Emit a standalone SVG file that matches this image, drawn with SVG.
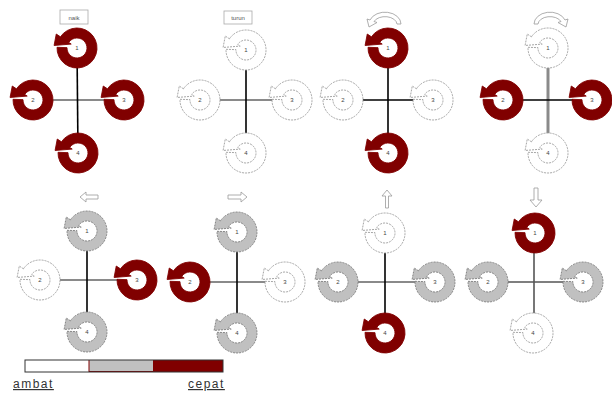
<svg xmlns="http://www.w3.org/2000/svg" xmlns:xlink="http://www.w3.org/1999/xlink" width="612" height="394" viewBox="0 0 612 394">
<style>
.fast{fill:#800000;stroke:#800000;stroke-width:0.8}
.mid{fill:#c0c0c0;stroke:#7a7a7a;stroke-width:0.8;stroke-dasharray:2 1}
.slow{fill:#ffffff;stroke:#9a9a9a;stroke-width:0.8;stroke-dasharray:2 1}
.num{font-family:"Liberation Sans",Arial,sans-serif;font-size:6px;fill:#444;text-anchor:middle}
.armb{stroke:#000;stroke-width:1.6}
.armg{stroke:#8a8a8a;stroke-width:2}
.armd{stroke:#555;stroke-width:1.6}
.hint{fill:#fff;stroke:#9a9a9a;stroke-width:0.8}
.lbl{font-family:"Liberation Sans",Arial,sans-serif;font-size:6px;fill:#555;text-anchor:middle}
.leg{font-family:"Liberation Sans",Arial,sans-serif;font-size:12px;letter-spacing:1.5px;fill:#333;text-decoration:underline}
</style>
<defs>
<g id="rotor">
<circle r="19" fill="#fff" stroke="none"/>
<path transform="rotate(-18)" d="M-12.31,-15.76 A20,20 0 1 1 -18.79,-6.84 L-9.40,-3.42 A10,10 0 1 0 -6.16,-7.88 L-4.3,-5.5 L-21,-9.5 L-15.4,-19.7 Z"/>
</g>
</defs>

<g id="connectors">
<line class="armg" x1="33" y1="100" x2="124" y2="100"/>
<line class="armb" x1="77" y1="48" x2="78" y2="153"/>
<line class="armg" x1="200" y1="100" x2="292" y2="100"/>
<line class="armb" x1="246" y1="50" x2="246" y2="153"/>
<line class="armb" x1="343" y1="100" x2="433" y2="100"/>
<line class="armb" x1="388" y1="48" x2="388" y2="153"/>
<line class="armg" x1="548" y1="48" x2="548" y2="153" style="stroke-width:3"/>
<line class="armb" x1="503" y1="100" x2="592" y2="100"/>
<line class="armg" x1="40" y1="280" x2="137" y2="280"/>
<line class="armb" x1="87" y1="231" x2="87" y2="332"/>
<line class="armg" x1="190" y1="282" x2="285" y2="282"/>
<line class="armb" x1="237" y1="232" x2="237" y2="333"/>
<line class="armg" x1="338" y1="282" x2="435" y2="282"/>
<line class="armb" x1="385" y1="233" x2="385" y2="333"/>
<line class="armd" x1="488" y1="282" x2="583" y2="282"/>
<line class="armd" x1="534" y1="233" x2="534" y2="333"/>
</g>

<g id="panel1">
<rect x="60" y="10" width="28" height="14" fill="#fff" stroke="#aaa" stroke-width="0.8"/>
<text class="lbl" x="74" y="20">naik</text>
<g id="p1r1"><use href="#rotor" class="fast" x="77" y="48"/><text class="num" x="77" y="50">1</text></g>
<g id="p1r2"><use href="#rotor" class="fast" x="33" y="100"/><text class="num" x="33" y="102">2</text></g>
<g id="p1r3"><use href="#rotor" class="fast" x="124" y="100"/><text class="num" x="124" y="102">3</text></g>
<g id="p1r4"><use href="#rotor" class="fast" x="78" y="153"/><text class="num" x="78" y="155">4</text></g>
</g>

<g id="panel2">
<rect x="224" y="11" width="28" height="13" fill="#fff" stroke="#aaa" stroke-width="0.8"/>
<text class="lbl" x="238" y="20">turun</text>
<g id="p2r1"><use href="#rotor" class="slow" x="246" y="50"/><text class="num" x="246" y="52">1</text></g>
<g id="p2r2"><use href="#rotor" class="slow" x="200" y="100"/><text class="num" x="200" y="102">2</text></g>
<g id="p2r3"><use href="#rotor" class="slow" x="292" y="100"/><text class="num" x="292" y="102">3</text></g>
<g id="p2r4"><use href="#rotor" class="slow" x="246" y="153"/><text class="num" x="246" y="155">4</text></g>
</g>

<g id="panel3">
<path class="hint" d="M401,24 A16,12 0 0 0 370,20 L367,19 L369,27 L377,22.5 L374,21.5 A12,8 0 0 1 397,24 Z"/>
<g id="p3r1"><use href="#rotor" class="fast" x="388" y="48"/><text class="num" x="388" y="50">1</text></g>
<g id="p3r2"><use href="#rotor" class="slow" x="343" y="100"/><text class="num" x="343" y="102">2</text></g>
<g id="p3r3"><use href="#rotor" class="slow" x="433" y="100"/><text class="num" x="433" y="102">3</text></g>
<g id="p3r4"><use href="#rotor" class="fast" x="388" y="153"/><text class="num" x="388" y="155">4</text></g>
</g>

<g id="panel4">
<path class="hint" d="M534,24 A16,12 0 0 1 565,20 L568,19 L566,27 L558,22.5 L561,21.5 A12,8 0 0 0 538,24 Z"/>
<g id="p4r1"><use href="#rotor" class="slow" x="548" y="48"/><text class="num" x="548" y="50">1</text></g>
<g id="p4r2"><use href="#rotor" class="fast" x="503" y="100"/><text class="num" x="503" y="102">2</text></g>
<g id="p4r3"><use href="#rotor" class="fast" x="592" y="100"/><text class="num" x="592" y="102">3</text></g>
<g id="p4r4"><use href="#rotor" class="slow" x="548" y="153"/><text class="num" x="548" y="155">4</text></g>
</g>

<g id="panel5">
<path class="hint" d="M80,197 L86,192 L86,195 L98,195 L98,199 L86,199 L86,202 Z"/>
<g id="p5r1"><use href="#rotor" class="mid" x="87" y="231"/><text class="num" x="87" y="233">1</text></g>
<g id="p5r2"><use href="#rotor" class="slow" x="40" y="280"/><text class="num" x="40" y="282">2</text></g>
<g id="p5r3"><use href="#rotor" class="fast" x="137" y="280"/><text class="num" x="137" y="282">3</text></g>
<g id="p5r4"><use href="#rotor" class="mid" x="87" y="332"/><text class="num" x="87" y="334">4</text></g>
</g>

<g id="panel6">
<path class="hint" d="M247,197 L241,192 L241,195 L228,195 L228,199 L241,199 L241,202 Z"/>
<g id="p6r1"><use href="#rotor" class="mid" x="237" y="232"/><text class="num" x="237" y="234">1</text></g>
<g id="p6r2"><use href="#rotor" class="fast" x="190" y="282"/><text class="num" x="190" y="284">2</text></g>
<g id="p6r3"><use href="#rotor" class="slow" x="285" y="282"/><text class="num" x="285" y="284">3</text></g>
<g id="p6r4"><use href="#rotor" class="mid" x="237" y="333"/><text class="num" x="237" y="335">4</text></g>
</g>

<g id="panel7">
<path class="hint" d="M387,190 L382,196 L385.5,196 L385.5,208 L388.5,208 L388.5,196 L392,196 Z"/>
<g id="p7r1"><use href="#rotor" class="slow" x="385" y="233"/><text class="num" x="385" y="235">1</text></g>
<g id="p7r2"><use href="#rotor" class="mid" x="338" y="282"/><text class="num" x="338" y="284">2</text></g>
<g id="p7r3"><use href="#rotor" class="mid" x="435" y="282"/><text class="num" x="435" y="284">3</text></g>
<g id="p7r4"><use href="#rotor" class="fast" x="385" y="333"/><text class="num" x="385" y="335">4</text></g>
</g>

<g id="panel8">
<path class="hint" d="M536,207 L530,200 L534,200 L534,188 L538,188 L538,200 L542,200 Z"/>
<g id="p8r1"><use href="#rotor" class="fast" x="535" y="233"/><text class="num" x="535" y="235">1</text></g>
<g id="p8r2"><use href="#rotor" class="mid" x="488" y="282"/><text class="num" x="488" y="284">2</text></g>
<g id="p8r3"><use href="#rotor" class="mid" x="583" y="282"/><text class="num" x="583" y="284">3</text></g>
<g id="p8r4"><use href="#rotor" class="slow" x="533" y="333"/><text class="num" x="533" y="335">4</text></g>
</g>

<g id="legend">
<rect x="25" y="360" width="64" height="12" fill="#fff"/>
<rect x="89" y="360" width="64" height="12" fill="#c0c0c0"/>
<rect x="153" y="360" width="70" height="12" fill="#800000"/>
<line x1="89" y1="360" x2="89" y2="372" stroke="#800000" stroke-width="1"/>
<line x1="89" y1="371.5" x2="153" y2="371.5" stroke="#800000" stroke-width="1"/>
<rect x="25" y="360" width="198" height="12" fill="none" stroke="#333" stroke-width="1"/>
<text class="leg" x="13" y="388">ambat</text>
<text class="leg" x="188" y="388">cepat</text>
</g>
</svg>
